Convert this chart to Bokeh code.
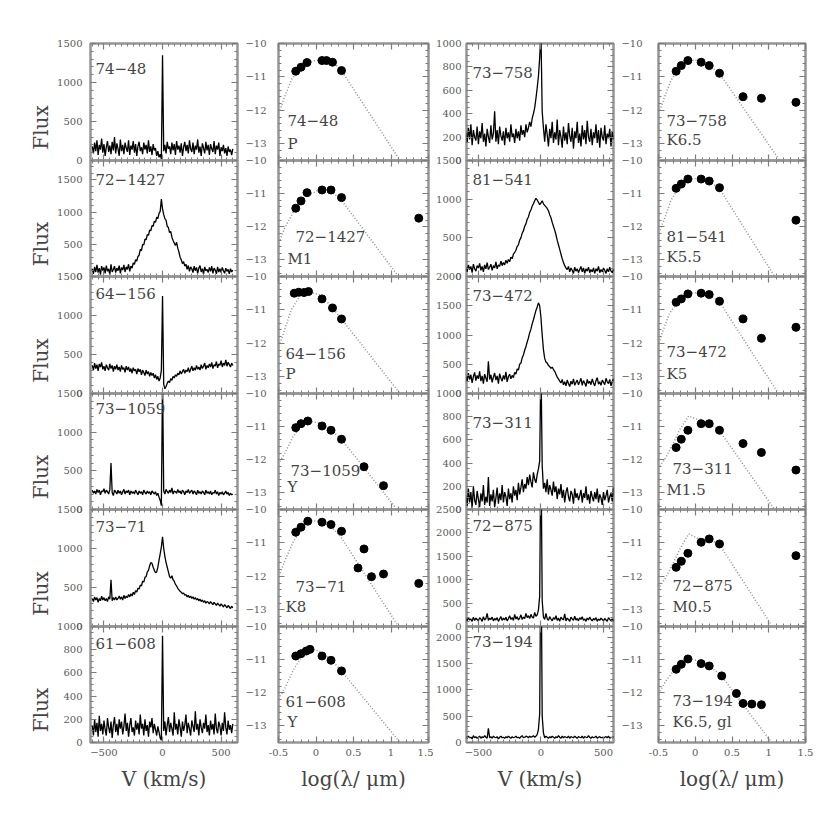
import numpy as np
from bokeh.plotting import figure
from bokeh.models import Range1d, LinearAxis, SingleIntervalTicker, Label, CustomLabelingPolicy
from bokeh.layouts import row, column
from bokeh.embed import file_html
from bokeh.resources import INLINE

# ---------------- data ----------------
VELOCITY = np.arange(-600, 601, 10)   # km/s sampling of the line profiles

# column 1 spectra (flux vs velocity)
FLUX_74_48 = [180, 90, 230, 120, 260, 70, 200, 140, 280, 100,
              210, 60, 170, 250, 110, 190, 80, 240, 130, 300,
              90, 220, 150, 60, 270, 120, 200, 80, 230, 160,
              110, 260, 70, 190, 140, 250, 100, 210, 60, 180,
              240, 120, 170, 80, 230, 140, 200, 90, 260, 110,
              180, 70, 210, 130, 160, 60, 120, 40, 80, 20,
              1350,
              120, 200, 90, 240, 150, 180, 80, 230, 130, 210,
              70, 250, 140, 190, 100, 220, 60, 170, 240, 120,
              200, 90, 260, 150, 110, 230, 80, 190, 140, 270,
              100, 180, 60, 220, 160, 90, 240, 130, 200, 70,
              210, 150, 110, 250, 80, 190, 140, 230, 60, 170,
              120, 200, 90, 160, 60, 180, 110, 140, 70, 150]
FLUX_72_1427 = [120, 40, 150, 70, 180, 60, 130, 30, 160, 90,
                140, 50, 170, 80, 120, 30, 190, 70, 110, 160,
                60, 130, 90, 170, 50, 140, 100, 180, 70, 150,
                110, 190, 80, 160, 130, 210, 190, 260, 240, 310,
                330, 420, 400, 500, 490, 580, 570, 650, 640, 720,
                710, 790, 780, 860, 840, 920, 900, 980, 1010, 1200,
                1050,
                960, 900, 870, 780, 760, 680, 700, 610, 560, 520,
                480, 530, 440, 380, 300, 260, 200, 230, 160, 190,
                110, 170, 80, 150, 120, 60, 160, 90, 140, 50,
                130, 170, 70, 120, 40, 150, 90, 110, 60, 140,
                80, 160, 50, 130, 100, 40, 150, 70, 120, 60,
                140, 90, 50, 130, 80, 110, 40, 120, 70, 100]
FLUX_64_156 = [360, 300, 390, 320, 370, 290, 380, 340, 400, 310,
               350, 290, 370, 330, 300, 380, 320, 360, 280, 350,
               310, 370, 300, 340, 280, 360, 310, 330, 270, 350,
               300, 340, 280, 320, 260, 330, 290, 310, 250, 320,
               280, 310, 240, 300, 270, 230, 300, 250, 280, 220,
               270, 230, 260, 200, 240, 180, 220, 160, 200, 300,
               1250,
               120, 60, 90, 130, 160, 140, 190, 170, 220, 200,
               240, 220, 260, 240, 290, 250, 280, 310, 260, 300,
               280, 330, 270, 310, 350, 290, 330, 300, 360, 310,
               340, 300, 370, 320, 350, 390, 310, 360, 330, 380,
               340, 400, 320, 370, 350, 410, 330, 380, 360, 420,
               340, 390, 360, 430, 350, 400, 370, 340, 390, 360]
FLUX_73_1059 = [250, 210, 240, 200, 260, 220, 250, 190, 240, 230,
                270, 210, 250, 230, 200, 260, 600, 220, 180, 250,
                230, 200, 250, 210, 240, 190, 230, 260, 200, 240,
                220, 250, 190, 240, 210, 230, 200, 250, 220, 190,
                240, 210, 230, 190, 250, 220, 200, 240, 210, 230,
                190, 240, 220, 200, 230, 180, 210, 160, 120, 50,
                1700,
                240, 200, 260, 230, 210, 250, 220, 280, 200, 240,
                230, 210, 260, 220, 240, 200, 250, 230, 190, 240,
                220, 260, 210, 230, 250, 200, 240, 220, 190, 250,
                210, 230, 200, 240, 220, 190, 250, 210, 230, 200,
                240, 190, 220, 210, 250, 200, 230, 180, 220, 200,
                230, 190, 210, 240, 200, 220, 180, 210, 190, 200]
FLUX_73_71 = [360, 320, 380, 340, 370, 310, 360, 330, 390, 340,
              370, 330, 360, 320, 380, 350, 600, 330, 370, 340,
              380, 340, 360, 390, 350, 380, 340, 400, 360, 390,
              370, 410, 380, 420, 390, 440, 410, 460, 440, 490,
              480, 530, 520, 580, 570, 630, 640, 700, 720, 780,
              820, 810, 760, 720, 690, 700, 760, 850, 930, 1020,
              1150,
              1000, 900, 820, 760, 700, 640, 620, 650, 600, 580,
              540, 520, 490, 470, 450, 440, 420, 430, 400, 410,
              380, 400, 370, 390, 360, 380, 350, 370, 340, 360,
              330, 350, 320, 340, 310, 330, 300, 320, 310, 290,
              320, 300, 280, 310, 290, 270, 300, 280, 260, 290,
              270, 250, 280, 260, 240, 270, 250, 230, 260, 240]
FLUX_61_608 = [150, 60, 200, 90, 170, 50, 230, 100, 160, 70,
               190, 110, 60, 210, 130, 80, 180, 40, 150, 220,
               90, 160, 60, 200, 120, 180, 70, 140, 250, 100,
               170, 50, 150, 210, 90, 130, 60, 190, 110, 170,
               70, 240, 120, 160, 60, 200, 100, 150, 50, 180,
               130, 210, 80, 160, 110, 60, 140, 90, 40, 20,
               920,
               100, 180, 60, 150, 220, 90, 170, 120, 60, 260,
               110, 160, 70, 200, 130, 50, 180, 100, 150, 240,
               80, 170, 120, 60, 190, 140, 90, 270, 110, 160,
               60, 200, 130, 80, 170, 120, 240, 90, 150, 60,
               190, 110, 160, 70, 250, 120, 80, 180, 140, 60,
               170, 100, 260, 130, 70, 190, 110, 150, 80, 160]

# column 3 spectra
FLUX_73_758 = [240, 150, 280, 180, 310, 130, 260, 200, 170, 290,
               140, 250, 190, 320, 160, 230, 120, 270, 200, 150,
               300, 180, 230, 420, 160, 260, 140, 290, 210, 170,
               250, 130, 280, 190, 240, 160, 310, 200, 230, 150,
               270, 190, 250, 170, 300, 220, 260, 200, 310, 240,
               280, 330, 290, 360, 400, 450, 530, 620, 720, 880,
               1100,
               420, 280, 160, 310, 220, 120, 270, 190, 330, 150,
               240, 180, 350, 130, 260, 200, 110, 290, 170, 240,
               140, 320, 210, 160, 280, 100, 250, 190, 330, 150,
               230, 120, 300, 180, 260, 140, 340, 200, 160, 270,
               130, 240, 190, 310, 150, 260, 110, 280, 200, 170,
               300, 140, 230, 190, 270, 120, 250, 180, 220, 160]
FLUX_81_541 = [120, 60, 150, 90, 130, 50, 160, 100, 70, 140,
               110, 170, 80, 130, 60, 150, 100, 180, 90, 120,
               160, 80, 140, 110, 190, 100, 150, 130, 200, 140,
               180, 150, 210, 170, 220, 190, 250, 230, 290, 310,
               340, 390, 410, 470, 500, 560, 590, 650, 680, 740,
               770, 830, 860, 910, 940, 980, 1010, 990, 960, 930,
               950,
               980, 940, 920, 900, 880, 850, 800, 760, 700, 650,
               600, 540, 470, 410, 350, 290, 230, 180, 140, 110,
               90, 130, 60, 110, 80, 40, 120, 70, 100, 50,
               90, 130, 60, 110, 40, 100, 70, 120, 50, 90,
               60, 110, 40, 100, 70, 130, 50, 90, 60, 110,
               80, 40, 100, 60, 120, 70, 50, 90, 60, 80]
FLUX_73_472 = [300, 200, 350, 240, 320, 180, 290, 360, 220, 310,
               250, 380, 210, 300, 170, 330, 260, 200, 550, 240,
               320, 190, 280, 350, 230, 300, 170, 340, 260, 210,
               310, 240, 370, 200, 290, 330, 250, 310, 270, 360,
               330, 420, 400, 500, 520, 610, 660, 740, 800, 880,
               950, 1040, 1100, 1190, 1260, 1340, 1420, 1480, 1550, 1500,
               1300,
               1000, 750, 600, 540, 520, 480, 460, 430, 450, 410,
               380, 330, 280, 250, 210, 180, 240, 150, 200, 130,
               230, 170, 120, 210, 160, 250, 140, 190, 230, 150,
               200, 260, 140, 220, 180, 120, 240, 170, 210, 150,
               250, 180, 130, 220, 270, 160, 200, 140, 230, 190,
               150, 260, 200, 170, 240, 130, 210, 250, 160, 220]
FLUX_73_311 = [120, 30, 180, 60, 150, 10, 200, 80, 40, 160,
               90, 20, 140, 70, 210, 40, 110, 60, 280, 30,
               130, 70, 170, 20, 100, 190, 50, 140, 80, 210,
               60, 150, 110, 30, 180, 90, 140, 60, 200, 120,
               170, 80, 230, 130, 190, 260, 150, 220, 180, 280,
               210, 300, 240, 190, 320, 260, 230, 300, 350, 420,
               1300,
               380, 180, 230, 150, 260, 130, 210, 170, 120, 240,
               150, 200, 90, 180, 130, 220, 100, 170, 60, 150,
               190, 110, 70, 160, 130, 50, 180, 100, 140, 80,
               120, 170, 60, 140, 100, 200, 80, 130, 50, 160,
               110, 70, 150, 90, 180, 60, 130, 100, 40, 150,
               80, 120, 170, 60, 110, 140, 70, 190, 90, 130]
FLUX_72_875 = [170, 120, 190, 140, 160, 110, 200, 130, 180, 150,
               120, 190, 160, 110, 210, 140, 170, 280, 130, 180,
               150, 200, 120, 170, 140, 190, 110, 160, 210, 130,
               180, 140, 200, 120, 170, 230, 150, 190, 130, 260,
               160, 210, 140, 180, 250, 150, 200, 170, 280, 190,
               230, 170, 260, 200, 180, 300, 220, 250, 350, 650,
               4000,
               550, 200, 150, 280, 170, 130, 210, 160, 120, 190,
               150, 230, 130, 180, 110, 200, 160, 140, 270, 120,
               180, 150, 110, 200, 160, 130, 220, 140, 170, 120,
               190, 150, 210, 130, 160, 110, 180, 140, 200, 150,
               120, 170, 140, 190, 110, 160, 130, 180, 150, 120,
               170, 140, 110, 190, 150, 130, 160, 120, 180, 140]
FLUX_73_194 = [110, 80, 120, 90, 100, 70, 130, 90, 110, 80,
               100, 120, 80, 110, 90, 130, 100, 80, 270, 90,
               110, 80, 120, 100, 90, 110, 70, 100, 120, 90,
               100, 80, 110, 90, 120, 100, 80, 110, 90, 100,
               120, 90, 100, 80, 110, 130, 90, 100, 120, 110,
               90, 120, 100, 110, 130, 100, 120, 150, 250, 550,
               4000,
               500, 180, 90, 120, 100, 80, 110, 90, 120, 100,
               80, 110, 90, 130, 100, 80, 120, 90, 110, 100,
               90, 120, 80, 110, 100, 90, 120, 100, 80, 110,
               100, 90, 120, 80, 110, 100, 90, 130, 100, 80,
               110, 90, 100, 120, 80, 100, 110, 90, 100, 80,
               100, 110, 90, 120, 80, 100, 90, 110, 80, 100]

# SEDs: photometry (log lambda [um], log lambda*F_lambda) and photosphere model
SED_74_48_X = [-0.27, -0.20, -0.12, 0.08, 0.14, 0.22, 0.34]
SED_74_48_Y = [-10.83, -10.71, -10.57, -10.51, -10.51, -10.56, -10.81]
MOD_74_48_X = [-0.48, -0.42, -0.32, -0.20, -0.05, 0.10, 0.25, 0.34, 1.12]
MOD_74_48_Y = [-12.0, -11.6, -11.05, -10.72, -10.52, -10.48, -10.60, -10.81, -13.5]

SED_72_1427_X = [-0.27, -0.20, -0.12, 0.08, 0.20, 0.34, 1.37]
SED_72_1427_Y = [-11.44, -11.22, -10.97, -10.89, -10.89, -11.12, -11.74]
MOD_72_1427_X = [-0.48, -0.42, -0.30, -0.15, 0.05, 0.20, 0.34, 1.10]
MOD_72_1427_Y = [-12.4, -12.05, -11.55, -11.1, -10.88, -10.92, -11.2, -13.5]

SED_64_156_X = [-0.29, -0.23, -0.16, -0.10, 0.08, 0.22, 0.34]
SED_64_156_Y = [-10.50, -10.47, -10.48, -10.45, -10.67, -10.94, -11.27]
MOD_64_156_X = [-0.48, -0.42, -0.33, -0.22, -0.10, 0.05, 0.20, 0.34, 1.12]
MOD_64_156_Y = [-12.0, -11.6, -11.0, -10.6, -10.45, -10.55, -10.88, -11.27, -13.5]

SED_73_1059_X = [-0.27, -0.20, -0.11, 0.08, 0.20, 0.34, 0.64, 0.90]
SED_73_1059_Y = [-11.03, -10.91, -10.83, -10.98, -11.11, -11.38, -12.21, -12.78]
MOD_73_1059_X = [-0.48, -0.41, -0.32, -0.20, -0.10, 0.05, 0.20, 0.34, 1.08]
MOD_73_1059_Y = [-12.05, -11.78, -11.35, -10.98, -10.82, -10.9, -11.1, -11.38, -13.5]

SED_73_71_X = [-0.27, -0.20, -0.11, 0.08, 0.20, 0.34, 0.56, 0.64, 0.74, 0.90, 1.37]
SED_73_71_Y = [-10.68, -10.53, -10.35, -10.38, -10.45, -10.65, -11.75, -11.18, -12.01, -11.93, -12.21]
MOD_73_71_X = [-0.48, -0.40, -0.30, -0.20, -0.10, 0.05, 0.20, 0.34, 1.10]
MOD_73_71_Y = [-11.9, -11.45, -10.95, -10.6, -10.33, -10.35, -10.5, -10.85, -13.5]

SED_61_608_X = [-0.27, -0.20, -0.13, -0.08, 0.08, 0.20, 0.34]
SED_61_608_Y = [-10.89, -10.82, -10.74, -10.69, -10.89, -11.02, -11.34]
MOD_61_608_X = [-0.48, -0.41, -0.30, -0.20, -0.08, 0.05, 0.20, 0.34, 1.12]
MOD_61_608_Y = [-12.1, -11.84, -11.3, -10.95, -10.68, -10.75, -11.0, -11.34, -13.5]

SED_73_758_X = [-0.26, -0.19, -0.10, 0.08, 0.19, 0.33, 0.65, 0.90, 1.37]
SED_73_758_Y = [-10.83, -10.66, -10.51, -10.56, -10.66, -10.89, -11.59, -11.64, -11.76]
MOD_73_758_X = [-0.48, -0.42, -0.33, -0.22, -0.10, 0.05, 0.20, 0.35, 1.15]
MOD_73_758_Y = [-12.0, -11.61, -11.1, -10.75, -10.5, -10.5, -10.65, -10.96, -13.5]

SED_81_541_X = [-0.26, -0.19, -0.10, 0.08, 0.19, 0.33, 1.37]
SED_81_541_Y = [-10.84, -10.71, -10.56, -10.56, -10.62, -10.82, -11.80]
MOD_81_541_X = [-0.48, -0.42, -0.33, -0.22, -0.10, 0.05, 0.20, 0.33, 1.08]
MOD_81_541_Y = [-12.1, -11.77, -11.2, -10.8, -10.56, -10.54, -10.64, -10.85, -13.5]

SED_73_472_X = [-0.26, -0.19, -0.10, 0.08, 0.19, 0.33, 0.65, 0.90, 1.37]
SED_73_472_Y = [-10.77, -10.67, -10.52, -10.50, -10.54, -10.74, -11.27, -11.85, -11.52]
MOD_73_472_X = [-0.48, -0.44, -0.35, -0.22, -0.10, 0.05, 0.20, 0.33, 1.13]
MOD_73_472_Y = [-11.9, -11.62, -11.1, -10.72, -10.5, -10.48, -10.56, -10.76, -13.5]

SED_73_311_X = [-0.26, -0.19, -0.10, 0.08, 0.19, 0.33, 0.65, 0.90, 1.37]
SED_73_311_Y = [-11.63, -11.38, -11.11, -10.91, -10.91, -11.11, -11.51, -11.78, -12.31]
MOD_73_311_X = [-0.48, -0.40, -0.30, -0.20, -0.09, 0.05, 0.20, 0.33, 1.08]
MOD_73_311_Y = [-12.2, -11.93, -11.5, -11.05, -10.68, -10.8, -10.92, -11.12, -13.5]

SED_72_875_X = [-0.26, -0.19, -0.10, 0.08, 0.19, 0.33, 1.37]
SED_72_875_Y = [-11.73, -11.55, -11.31, -10.98, -10.88, -11.03, -11.38]
MOD_72_875_X = [-0.48, -0.40, -0.30, -0.20, -0.09, 0.05, 0.20, 0.33, 1.05]
MOD_72_875_Y = [-12.3, -12.03, -11.6, -11.15, -10.73, -10.88, -10.9, -11.05, -13.5]

SED_73_194_X = [-0.26, -0.19, -0.10, 0.08, 0.19, 0.36, 0.56, 0.65, 0.77, 0.90]
SED_73_194_Y = [-11.29, -11.14, -10.98, -11.12, -11.19, -11.49, -12.02, -12.32, -12.34, -12.36]
MOD_73_194_X = [-0.48, -0.40, -0.30, -0.20, -0.09, 0.05, 0.20, 0.36, 1.04]
MOD_73_194_Y = [-11.95, -11.64, -11.35, -11.12, -10.95, -11.05, -11.2, -11.5, -13.5]

NAMES_COL1 = ["74−48", "72−1427", "64−156", "73−1059", "73−71", "61−608"]
NAMES_COL3 = ["73−758", "81−541", "73−472", "73−311", "72−875", "73−194"]
SPTYPES_COL2 = ["P", "M1", "P", "Y", "K8", "Y"]
SPTYPES_COL4 = ["K6.5", "K5.5", "K5", "M1.5", "M0.5", "K6.5, gl"]

SPEC_COL1 = [FLUX_74_48, FLUX_72_1427, FLUX_64_156, FLUX_73_1059, FLUX_73_71, FLUX_61_608]
SPEC_COL3 = [FLUX_73_758, FLUX_81_541, FLUX_73_472, FLUX_73_311, FLUX_72_875, FLUX_73_194]
SED_COL2 = [(SED_74_48_X, SED_74_48_Y, MOD_74_48_X, MOD_74_48_Y),
            (SED_72_1427_X, SED_72_1427_Y, MOD_72_1427_X, MOD_72_1427_Y),
            (SED_64_156_X, SED_64_156_Y, MOD_64_156_X, MOD_64_156_Y),
            (SED_73_1059_X, SED_73_1059_Y, MOD_73_1059_X, MOD_73_1059_Y),
            (SED_73_71_X, SED_73_71_Y, MOD_73_71_X, MOD_73_71_Y),
            (SED_61_608_X, SED_61_608_Y, MOD_61_608_X, MOD_61_608_Y)]
SED_COL4 = [(SED_73_758_X, SED_73_758_Y, MOD_73_758_X, MOD_73_758_Y),
            (SED_81_541_X, SED_81_541_Y, MOD_81_541_X, MOD_81_541_Y),
            (SED_73_472_X, SED_73_472_Y, MOD_73_472_X, MOD_73_472_Y),
            (SED_73_311_X, SED_73_311_Y, MOD_73_311_X, MOD_73_311_Y),
            (SED_72_875_X, SED_72_875_Y, MOD_72_875_X, MOD_72_875_Y),
            (SED_73_194_X, SED_73_194_Y, MOD_73_194_X, MOD_73_194_Y)]

# axis limits / ticks
YMAX_COL1 = [1500, 1800, 1500, 1500, 1500, 1000]
YTICK_COL1 = [500, 500, 500, 500, 500, 200]
YMAX_COL3 = [1000, 1500, 2000, 1000, 2500, 2200]
YTICK_COL3 = [200, 500, 500, 200, 500, 500]
XLIM_COL1 = (-615, 640)
XLIM_COL3 = (-595, 580)
SED_XLIM = (-0.5, 1.5)
SED_YLIM = (-13.5, -10.0)

# ---------------- layout / style ----------------
FONT = "DejaVu Serif"
TICK_COLOR = "#7d7d7d"
LABEL_COLOR = "#5a5a5a"
TEXT_COLOR = "#444444"
FRAME_W = [147, 150, 147, 147]
FRAME_H = [117, 116, 117, 116, 117, 116]
BORDER_L = [90, 36, 33, 36]
BORDER_R = [0, 0, 0, 12]
YLABEL_STANDOFF = [8, 12, 5, 16]
H = 10

NAME_OFF_COL1 = [(5, 19), (5, 13), (5, 11), (5, 9.5), (5, 11), (5, 11.5)]
NAME_OFF_COL3 = [(6, 23), (6, 13), (6, 13), (6, 23), (6, 10.5), (6, 9)]
NAME_OFF_COL2 = [(9, 71), (17, 70.5), (7, 71), (12, 71.5), (17, 71), (7, 69.5)]
TYPE_OFF_COL2 = [(9, 91), (9, 89.5), (7, 88), (9, 84.5), (7, 88), (9, 86.5)]
NAME_OFF_COL4 = [(8, 71), (8, 70.5), (8, 69), (14, 69.5), (14, 70), (14, 68.5)]
TYPE_OFF_COL4 = [(8, 87), (8, 87.5), (8, 88), (8, 87.5), (14, 88), (14, 86.5)]

HIDE_ALL = """
for (const i of indices) { indices.unset(i) }
return indices
"""


def style_axis(ax, interval, minor, show, standoff=5, overrides=None):
    ax.ticker = SingleIntervalTicker(interval=interval, num_minor_ticks=minor)
    ax.axis_line_color = None
    ax.major_tick_in = 6
    ax.major_tick_out = 0
    ax.minor_tick_in = 3
    ax.minor_tick_out = 0
    ax.major_tick_line_color = TICK_COLOR
    ax.minor_tick_line_color = TICK_COLOR
    ax.major_tick_line_width = 1.2
    ax.minor_tick_line_width = 1
    if show:
        ax.major_label_text_font = FONT
        ax.major_label_text_font_size = "10px"
        ax.major_label_text_color = LABEL_COLOR
        ax.major_label_standoff = standoff
        if overrides:
            ax.major_label_overrides = overrides
    else:
        ax.major_label_text_font_size = "1px"
        ax.major_label_standoff = 0
        ax.major_label_policy = CustomLabelingPolicy(code=HIDE_ALL)


def add_text(p, xr, yr, fw, fh, off, text):
    dx, dy = off
    x = xr[0] + dx / fw * (xr[1] - xr[0])
    y = yr[1] - dy / fh * (yr[1] - yr[0])
    p.add_layout(Label(x=x, y=y, text=text, text_font=FONT, text_font_size="15px",
                       text_color=TEXT_COLOR, text_baseline="top", text_align="left"))


def make_panel(c, r):
    fw, fh = FRAME_W[c], FRAME_H[r]
    spectral = c in (0, 2)
    if spectral:
        xr = XLIM_COL1 if c == 0 else XLIM_COL3
        ymax = (YMAX_COL1 if c == 0 else YMAX_COL3)[r]
        yr = (0, ymax)
        yint = (YTICK_COL1 if c == 0 else YTICK_COL3)[r]
        ymin_n = 4 if yint == 200 else 5
        xint, xmin_n = 500, 10
    else:
        xr, yr = SED_XLIM, SED_YLIM
        yint, ymin_n = 1, 5
        xint, xmin_n = 0.5, 5
    p = figure(frame_width=fw, frame_height=fh,
               x_range=Range1d(*xr), y_range=Range1d(*yr),
               output_backend="svg", toolbar_location=None,
               min_border_left=BORDER_L[c], min_border_right=BORDER_R[c],
               min_border_top=43 if r == 0 else H,
               min_border_bottom=62 if r == 5 else H,
               margin=(0, 0, 0, 0) if r == 0 else (-2 * H, 0, 0, 0),
               background_fill_color=None, border_fill_color=None,
               outline_line_color="#959595", outline_line_width=2.5)
    p.xgrid.visible = False
    p.ygrid.visible = False

    bottom = p.xaxis[0]
    left = p.yaxis[0]
    xover = None
    if not spectral:
        xover = {-0.5: "-0.5", 0: "0", 0.5: "0.5", 1: "1", 1.5: "1.5"}
    style_axis(bottom, xint, xmin_n, r == 5, standoff=6, overrides=xover)
    style_axis(left, yint, ymin_n, True, standoff=YLABEL_STANDOFF[c])
    if r == 5:
        bottom.axis_label = "V (km/s)" if spectral else "log(λ/ μm)"
        bottom.axis_label_text_font = FONT
        bottom.axis_label_text_font_size = "20px"
        bottom.axis_label_text_font_style = "normal"
        bottom.axis_label_text_color = TEXT_COLOR
        bottom.axis_label_standoff = 8
    if c == 0:
        left.axis_label = "Flux" + "\u00a0" * 8
        left.axis_label_text_font = FONT
        left.axis_label_text_font_size = "20px"
        left.axis_label_text_font_style = "normal"
        left.axis_label_text_color = TEXT_COLOR
        left.axis_label_standoff = 1

    top_ax = LinearAxis()
    style_axis(top_ax, xint, xmin_n, False)
    p.add_layout(top_ax, "above")
    right_ax = LinearAxis()
    style_axis(right_ax, yint, ymin_n, False)
    p.add_layout(right_ax, "right")

    if spectral:
        flux = (SPEC_COL1 if c == 0 else SPEC_COL3)[r]
        v = VELOCITY[:len(flux)]
        p.line(v, flux, line_color="black", line_width=1.3)
        name = (NAMES_COL1 if c == 0 else NAMES_COL3)[r]
        off = (NAME_OFF_COL1 if c == 0 else NAME_OFF_COL3)[r]
        add_text(p, xr, yr, fw, fh, off, name)
    else:
        sx, sy, mx, my = (SED_COL2 if c == 1 else SED_COL4)[r]
        p.line(mx, my, line_color="#8f8f8f", line_dash="1 2", line_width=1.5)
        p.scatter(sx, sy, size=8, fill_color="black", line_color="black")
        name = (NAMES_COL1 if c == 1 else NAMES_COL3)[r]
        sptype = (SPTYPES_COL2 if c == 1 else SPTYPES_COL4)[r]
        noff = (NAME_OFF_COL2 if c == 1 else NAME_OFF_COL4)[r]
        toff = (TYPE_OFF_COL2 if c == 1 else TYPE_OFF_COL4)[r]
        add_text(p, xr, yr, fw, fh, noff, name)
        add_text(p, xr, yr, fw, fh, toff, sptype)
    return p


cols = []
for c in range(4):
    cols.append(column(*[make_panel(c, r) for r in range(6)], spacing=0))
layout = row(*cols, spacing=0)

open("out.html", "w").write(file_html(layout, INLINE))
